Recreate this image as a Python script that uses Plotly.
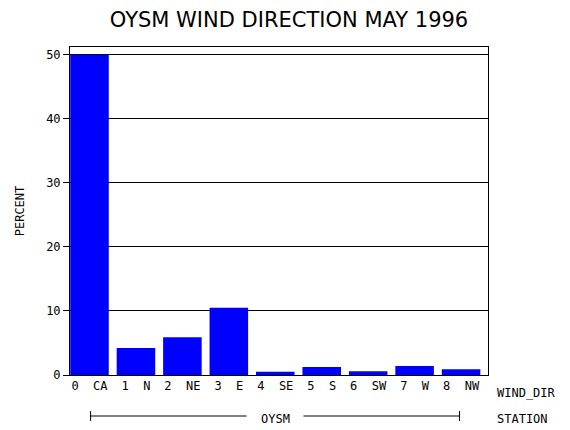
import plotly.graph_objects as go

categories = ["0  CA", "1  N", "2  NE", "3  E", "4  SE", "5  S", "6  SW", "7  W", "8  NW"]
percent = [50.0, 4.2, 5.9, 10.5, 0.5, 1.25, 0.6, 1.4, 0.9]
yticks = [0, 10, 20, 30, 40, 50]

OFF = 8
FW, FH = 570 - OFF, 430 - OFF
L, R, T, B = 62 - OFF, 488 - OFF, 47 - OFF, 375 - OFF
W, H = R - L, B - T
def px(x): return (x - OFF - L) / W
def py(y): return (B - (y - OFF)) / H

font = dict(family="DejaVu Sans Mono", size=12, color="black")
fig = go.Figure(go.Bar(x=list(range(len(categories))), y=percent, width=0.83,
                       marker=dict(color="#0000ff", line=dict(width=0))))
fig.update_layout(
    width=FW, height=FH, margin=dict(l=L, r=FW - R, t=T, b=FH - B),
    plot_bgcolor="white", paper_bgcolor="white", showlegend=False, font=font,
    title=dict(text="OYSM WIND DIRECTION MAY 1996", x=0.5, xanchor="center",
               yref="container", y=1 - (20 - OFF) / FH, yanchor="middle",
               font=dict(family="DejaVu Sans", size=21, color="black")),
)
fig.update_xaxes(range=[-0.42, 8.58], tickvals=list(range(len(categories))), ticktext=categories,
                 showgrid=False, zeroline=False, showline=True, linecolor="black", mirror=True,
                 ticks="", tickfont=font)
fig.update_yaxes(range=[0, 51.2], tickvals=yticks, showgrid=True, gridcolor="black", gridwidth=1,
                 zeroline=False, showline=True, linecolor="black", mirror=True,
                 ticks="outside", ticklen=6, tickcolor="black", tickfont=font,
                 title=dict(text="PERCENT", font=font, standoff=18))
fig.add_annotation(text="WIND_DIR", xref="paper", yref="paper", x=px(495), y=py(393),
                   xanchor="left", yanchor="middle", showarrow=False, font=font)
fig.add_annotation(text="STATION", xref="paper", yref="paper", x=px(495), y=py(419),
                   xanchor="left", yanchor="middle", showarrow=False, font=font)
fig.add_annotation(text="OYSM", xref="paper", yref="paper", x=px(271), y=py(419),
                   xanchor="center", yanchor="middle", showarrow=False, font=font)
for x0, x1 in [(83, 242), (300, 459)]:
    fig.add_shape(type="line", xref="paper", yref="paper", x0=px(x0), x1=px(x1),
                  y0=py(416), y1=py(416), line=dict(color="black", width=1))
for x0 in (83, 459):
    fig.add_shape(type="line", xref="paper", yref="paper", x0=px(x0), x1=px(x0),
                  y0=py(411), y1=py(421), line=dict(color="black", width=1))
fig.write_html("out.html")
